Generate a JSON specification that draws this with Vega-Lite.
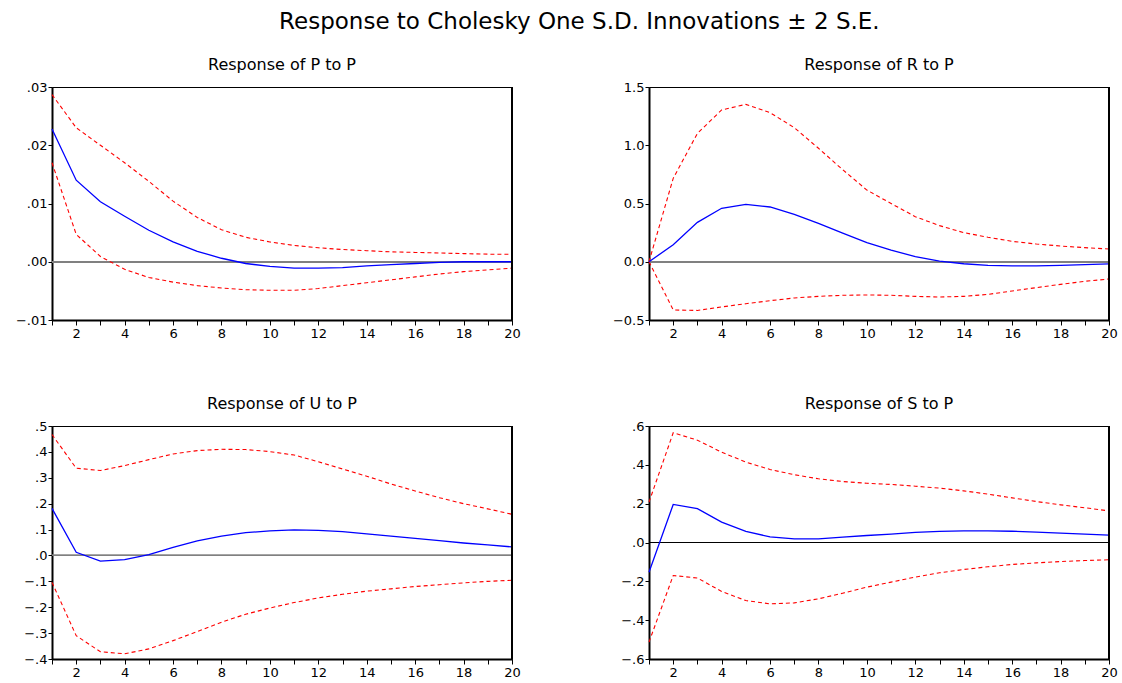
{
"$schema": "https://vega.github.io/schema/vega-lite/v6.json",
"background": "#ffffff",
"padding": {"left": 14, "top": 10, "right": 5, "bottom": 5},
"title": {"text": "Response to Cholesky One S.D. Innovations ± 2 S.E.", "fontSize": 23, "offset": 23, "anchor": "middle", "dx": 13},
"datasets": {
"pp": [
{"h":1,"resp":0.0228,"lo":0.0170,"hi":0.0287},
{"h":2,"resp":0.0140,"lo":0.0047,"hi":0.0230},
{"h":3,"resp":0.0103,"lo":0.0009,"hi":0.0200},
{"h":4,"resp":0.0078,"lo":-0.0013,"hi":0.0170},
{"h":5,"resp":0.0054,"lo":-0.0027,"hi":0.0138},
{"h":6,"resp":0.0034,"lo":-0.0035,"hi":0.0104},
{"h":7,"resp":0.0018,"lo":-0.0041,"hi":0.0076},
{"h":8,"resp":0.0006,"lo":-0.0045,"hi":0.0055},
{"h":9,"resp":-0.0003,"lo":-0.0048,"hi":0.0042},
{"h":10,"resp":-0.0008,"lo":-0.0049,"hi":0.0034},
{"h":11,"resp":-0.0011,"lo":-0.0049,"hi":0.0028},
{"h":12,"resp":-0.0011,"lo":-0.0046,"hi":0.0024},
{"h":13,"resp":-0.0010,"lo":-0.0041,"hi":0.0021},
{"h":14,"resp":-0.0007,"lo":-0.0036,"hi":0.0019},
{"h":15,"resp":-0.0005,"lo":-0.0031,"hi":0.0017},
{"h":16,"resp":-0.0003,"lo":-0.0026,"hi":0.0016},
{"h":17,"resp":-0.0001,"lo":-0.0021,"hi":0.0015},
{"h":18,"resp":0.0000,"lo":-0.0017,"hi":0.0014},
{"h":19,"resp":0.0000,"lo":-0.0014,"hi":0.0013},
{"h":20,"resp":0.0000,"lo":-0.0011,"hi":0.0013}
],
"rp": [
{"h":1,"resp":0,"lo":0,"hi":0},
{"h":2,"resp":0.146,"lo":-0.414,"hi":0.716},
{"h":3,"resp":0.338,"lo":-0.418,"hi":1.102},
{"h":4,"resp":0.459,"lo":-0.388,"hi":1.303},
{"h":5,"resp":0.493,"lo":-0.360,"hi":1.351},
{"h":6,"resp":0.470,"lo":-0.334,"hi":1.280},
{"h":7,"resp":0.407,"lo":-0.311,"hi":1.151},
{"h":8,"resp":0.330,"lo":-0.297,"hi":0.974},
{"h":9,"resp":0.246,"lo":-0.288,"hi":0.790},
{"h":10,"resp":0.165,"lo":-0.285,"hi":0.615},
{"h":11,"resp":0.100,"lo":-0.288,"hi":0.500},
{"h":12,"resp":0.044,"lo":-0.297,"hi":0.387},
{"h":13,"resp":0.006,"lo":-0.303,"hi":0.310},
{"h":14,"resp":-0.017,"lo":-0.297,"hi":0.250},
{"h":15,"resp":-0.031,"lo":-0.280,"hi":0.210},
{"h":16,"resp":-0.036,"lo":-0.251,"hi":0.175},
{"h":17,"resp":-0.036,"lo":-0.222,"hi":0.152},
{"h":18,"resp":-0.031,"lo":-0.194,"hi":0.135},
{"h":19,"resp":-0.025,"lo":-0.168,"hi":0.121},
{"h":20,"resp":-0.019,"lo":-0.148,"hi":0.109}
],
"up": [
{"h":1,"resp":0.182,"lo":-0.104,"hi":0.467},
{"h":2,"resp":0.012,"lo":-0.310,"hi":0.337},
{"h":3,"resp":-0.022,"lo":-0.372,"hi":0.328},
{"h":4,"resp":-0.016,"lo":-0.380,"hi":0.347},
{"h":5,"resp":0.003,"lo":-0.361,"hi":0.370},
{"h":6,"resp":0.031,"lo":-0.329,"hi":0.392},
{"h":7,"resp":0.056,"lo":-0.294,"hi":0.405},
{"h":8,"resp":0.075,"lo":-0.258,"hi":0.410},
{"h":9,"resp":0.088,"lo":-0.227,"hi":0.409},
{"h":10,"resp":0.095,"lo":-0.203,"hi":0.401},
{"h":11,"resp":0.099,"lo":-0.182,"hi":0.388},
{"h":12,"resp":0.097,"lo":-0.164,"hi":0.362},
{"h":13,"resp":0.092,"lo":-0.150,"hi":0.334},
{"h":14,"resp":0.083,"lo":-0.138,"hi":0.306},
{"h":15,"resp":0.075,"lo":-0.129,"hi":0.276},
{"h":16,"resp":0.066,"lo":-0.120,"hi":0.249},
{"h":17,"resp":0.057,"lo":-0.113,"hi":0.223},
{"h":18,"resp":0.048,"lo":-0.106,"hi":0.200},
{"h":19,"resp":0.041,"lo":-0.100,"hi":0.180},
{"h":20,"resp":0.033,"lo":-0.096,"hi":0.159}
],
"sp": [
{"h":1,"resp":-0.153,"lo":-0.513,"hi":0.208},
{"h":2,"resp":0.196,"lo":-0.170,"hi":0.565},
{"h":3,"resp":0.174,"lo":-0.183,"hi":0.527},
{"h":4,"resp":0.105,"lo":-0.252,"hi":0.465},
{"h":5,"resp":0.057,"lo":-0.299,"hi":0.414},
{"h":6,"resp":0.029,"lo":-0.316,"hi":0.376},
{"h":7,"resp":0.019,"lo":-0.311,"hi":0.349},
{"h":8,"resp":0.019,"lo":-0.290,"hi":0.328},
{"h":9,"resp":0.028,"lo":-0.261,"hi":0.314},
{"h":10,"resp":0.036,"lo":-0.230,"hi":0.305},
{"h":11,"resp":0.043,"lo":-0.204,"hi":0.299},
{"h":12,"resp":0.052,"lo":-0.178,"hi":0.290},
{"h":13,"resp":0.057,"lo":-0.156,"hi":0.280},
{"h":14,"resp":0.060,"lo":-0.139,"hi":0.266},
{"h":15,"resp":0.060,"lo":-0.125,"hi":0.249},
{"h":16,"resp":0.058,"lo":-0.113,"hi":0.230},
{"h":17,"resp":0.053,"lo":-0.105,"hi":0.211},
{"h":18,"resp":0.048,"lo":-0.098,"hi":0.194},
{"h":19,"resp":0.043,"lo":-0.093,"hi":0.179},
{"h":20,"resp":0.038,"lo":-0.089,"hi":0.163}
]
},
"columns": 2,
"spacing": {"row": 54, "column": 90},
"concat": [
{"title": "Response of P to P", "width": 460, "height": 233, "data": {"name": "pp"},
"layer": [
{"mark": {"type": "rule", "color": "#808080", "strokeWidth": 1}, "encoding": {"y": {"datum": 0, "type": "quantitative", "scale": {"domain": [-0.01, 0.03], "nice": false, "zero": false}, "axis": {"values": [-0.01, 0, 0.01, 0.02, 0.03], "labelExpr": "replace(format(datum.value, '.2f'), '0.', '.')"}}}},
{"mark": {"type": "line", "color": "#ff0000", "strokeDash": [4, 3], "strokeWidth": 1.1}, "encoding": {"x": {"field": "h", "type": "quantitative", "scale": {"domain": [1, 20], "nice": false, "zero": false}, "axis": {"values": [1,2,3,4,5,6,7,8,9,10,11,12,13,14,15,16,17,18,19,20], "labelExpr": "datum.value % 2 == 0 ? format(datum.value, 'd') : ''"}}, "y": {"field": "hi", "type": "quantitative"}}},
{"mark": {"type": "line", "color": "#ff0000", "strokeDash": [4, 3], "strokeWidth": 1.1}, "encoding": {"x": {"field": "h", "type": "quantitative"}, "y": {"field": "lo", "type": "quantitative"}}},
{"mark": {"type": "line", "color": "#0000ff", "strokeWidth": 1.3}, "encoding": {"x": {"field": "h", "type": "quantitative"}, "y": {"field": "resp", "type": "quantitative"}}},
{"mark": {"type": "rule", "color": "#000000", "strokeWidth": 2}, "encoding": {"x": {"datum": 20, "type": "quantitative"}}}
]},
{"title": "Response of R to P", "width": 460, "height": 233, "data": {"name": "rp"},
"layer": [
{"mark": {"type": "rule", "color": "#808080", "strokeWidth": 1}, "encoding": {"y": {"datum": 0, "type": "quantitative", "scale": {"domain": [-0.5, 1.5], "nice": false, "zero": false}, "axis": {"values": [-0.5, 0, 0.5, 1, 1.5], "labelExpr": "format(datum.value, '.1f')"}}}},
{"mark": {"type": "line", "color": "#ff0000", "strokeDash": [4, 3], "strokeWidth": 1.1}, "encoding": {"x": {"field": "h", "type": "quantitative", "scale": {"domain": [1, 20], "nice": false, "zero": false}, "axis": {"values": [1,2,3,4,5,6,7,8,9,10,11,12,13,14,15,16,17,18,19,20], "labelExpr": "datum.value % 2 == 0 ? format(datum.value, 'd') : ''"}}, "y": {"field": "hi", "type": "quantitative"}}},
{"mark": {"type": "line", "color": "#ff0000", "strokeDash": [4, 3], "strokeWidth": 1.1}, "encoding": {"x": {"field": "h", "type": "quantitative"}, "y": {"field": "lo", "type": "quantitative"}}},
{"mark": {"type": "line", "color": "#0000ff", "strokeWidth": 1.3}, "encoding": {"x": {"field": "h", "type": "quantitative"}, "y": {"field": "resp", "type": "quantitative"}}},
{"mark": {"type": "rule", "color": "#000000", "strokeWidth": 2}, "encoding": {"x": {"datum": 20, "type": "quantitative"}}}
]},
{"title": "Response of U to P", "width": 460, "height": 233, "data": {"name": "up"},
"layer": [
{"mark": {"type": "rule", "color": "#808080", "strokeWidth": 1}, "encoding": {"y": {"datum": 0, "type": "quantitative", "scale": {"domain": [-0.4, 0.5], "nice": false, "zero": false}, "axis": {"values": [-0.4, -0.3, -0.2, -0.1, 0, 0.1, 0.2, 0.3, 0.4, 0.5], "labelExpr": "replace(format(datum.value, '.1f'), '0.', '.')"}}}},
{"mark": {"type": "line", "color": "#ff0000", "strokeDash": [4, 3], "strokeWidth": 1.1}, "encoding": {"x": {"field": "h", "type": "quantitative", "scale": {"domain": [1, 20], "nice": false, "zero": false}, "axis": {"values": [1,2,3,4,5,6,7,8,9,10,11,12,13,14,15,16,17,18,19,20], "labelExpr": "datum.value % 2 == 0 ? format(datum.value, 'd') : ''"}}, "y": {"field": "hi", "type": "quantitative"}}},
{"mark": {"type": "line", "color": "#ff0000", "strokeDash": [4, 3], "strokeWidth": 1.1}, "encoding": {"x": {"field": "h", "type": "quantitative"}, "y": {"field": "lo", "type": "quantitative"}}},
{"mark": {"type": "line", "color": "#0000ff", "strokeWidth": 1.3}, "encoding": {"x": {"field": "h", "type": "quantitative"}, "y": {"field": "resp", "type": "quantitative"}}},
{"mark": {"type": "rule", "color": "#000000", "strokeWidth": 2}, "encoding": {"x": {"datum": 20, "type": "quantitative"}}}
]},
{"title": "Response of S to P", "width": 460, "height": 233, "data": {"name": "sp"},
"layer": [
{"mark": {"type": "rule", "color": "#000000", "strokeWidth": 1}, "encoding": {"y": {"datum": 0, "type": "quantitative", "scale": {"domain": [-0.6, 0.6], "nice": false, "zero": false}, "axis": {"values": [-0.6, -0.4, -0.2, 0, 0.2, 0.4, 0.6], "labelExpr": "replace(format(datum.value, '.1f'), '0.', '.')"}}}},
{"mark": {"type": "line", "color": "#ff0000", "strokeDash": [4, 3], "strokeWidth": 1.1}, "encoding": {"x": {"field": "h", "type": "quantitative", "scale": {"domain": [1, 20], "nice": false, "zero": false}, "axis": {"values": [1,2,3,4,5,6,7,8,9,10,11,12,13,14,15,16,17,18,19,20], "labelExpr": "datum.value % 2 == 0 ? format(datum.value, 'd') : ''"}}, "y": {"field": "hi", "type": "quantitative"}}},
{"mark": {"type": "line", "color": "#ff0000", "strokeDash": [4, 3], "strokeWidth": 1.1}, "encoding": {"x": {"field": "h", "type": "quantitative"}, "y": {"field": "lo", "type": "quantitative"}}},
{"mark": {"type": "line", "color": "#0000ff", "strokeWidth": 1.3}, "encoding": {"x": {"field": "h", "type": "quantitative"}, "y": {"field": "resp", "type": "quantitative"}}},
{"mark": {"type": "rule", "color": "#000000", "strokeWidth": 2}, "encoding": {"x": {"datum": 20, "type": "quantitative"}}}
]}
],
"config": {
"view": {"stroke": "#000000", "strokeWidth": 1},
"font": "DejaVu Sans",
"axis": {"grid": false, "title": null, "tickCount": 50, "labelOverlap": false, "labelFlush": false, "labelBound": false, "domainColor": "#000000", "domainWidth": 2, "tickColor": "#000000", "tickWidth": 1, "labelFont": "DejaVu Sans", "labelFontSize": 13, "labelColor": "#000000"},
"axisY": {"tickSize": 4, "labelPadding": 1},
"axisX": {"tickSize": 5, "labelPadding": 2},
"title": {"font": "DejaVu Sans", "fontSize": 16, "fontWeight": "normal", "color": "#000000", "offset": 8}
}
}
